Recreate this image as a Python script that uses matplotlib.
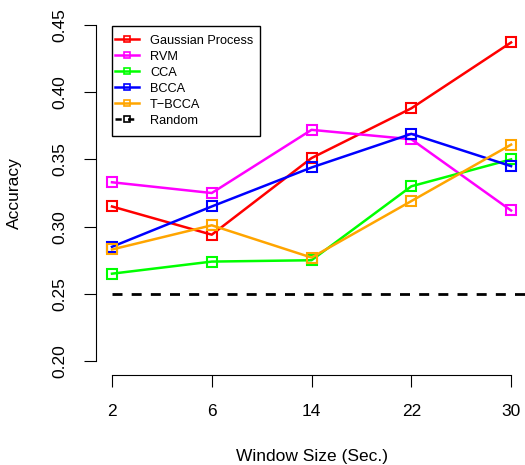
import numpy as np
import matplotlib.pyplot as plt
from matplotlib.lines import Line2D
from matplotlib.patches import Rectangle

plt.rcParams['font.family'] = ['Liberation Sans', 'DejaVu Sans']

# window sizes (categorical x axis)
windows = ['2', '6', '14', '22', '30']

# accuracy
gp = [0.315, 0.294, 0.351, 0.388, 0.437]
rvm = [0.333, 0.325, 0.372, 0.365, 0.312]
cca = [0.265, 0.274, 0.275, 0.330, 0.350]
bcca = [0.285, 0.315, 0.344, 0.369, 0.345]
tbcca = [0.283, 0.301, 0.277, 0.319, 0.361]
random_level = 0.25

names = ['Gaussian Process', 'RVM', 'CCA', 'BCCA', 'T\u2212BCCA']
colors = ['#FF0000', '#FF00FF', '#00FF00', '#0000FF', '#FFA500']
series = [gp, rvm, cca, bcca, tbcca]

fig = plt.figure(figsize=(5.25, 4.65), dpi=100)
ax = fig.add_axes([0.1829, 0.1946, 0.821, 0.7806])

x = np.arange(1, len(windows) + 1)
ax.set_xlim(0.84, 5.16)
ax.set_ylim(0.19, 0.46)

# random baseline, starting at the first window
lo, hi = ax.get_xlim()
ax.axhline(random_level, xmin=(x[0] - lo) / (hi - lo), xmax=1,
           color='black', lw=2.0, dashes=(3.6, 3.3), clip_on=False)

for vals, col in zip(series, colors):
    ax.plot(x, vals, color=col, lw=1.8, marker='s', ms=6.5,
            mfc='none', mec=col, mew=1.5)

# R-like axes: no box, axis lines only between extreme ticks
for s in ['top', 'right']:
    ax.spines[s].set_visible(False)
ax.spines['left'].set_bounds(0.20, 0.45)
ax.spines['bottom'].set_bounds(1, 5)
ax.spines['left'].set_linewidth(0.8)
ax.spines['bottom'].set_linewidth(0.8)

ax.set_xticks(x)
ax.set_xticklabels(windows)
yt = [0.20, 0.25, 0.30, 0.35, 0.40, 0.45]
ax.set_yticks(yt)
ax.set_yticklabels(['%.2f' % v for v in yt], rotation=90, va='center')
ax.tick_params(axis='both', length=8.5, width=0.8, labelsize=12.5)
ax.tick_params(axis='x', pad=13)
ax.tick_params(axis='y', pad=12)

ax.set_xlabel('Window Size (Sec.)', fontsize=12.5)
ax.set_ylabel('Accuracy', fontsize=12.5)
ax.xaxis.set_label_coords(0.5, -0.205)
ax.yaxis.set_label_coords(-0.172, 0.5)

handles = [Line2D([], [], color=c, lw=1.8, marker='s', ms=4, mfc='none', mec=c, mew=1.2)
           for c in colors]
handles.append(Line2D([], [], color='black', lw=1.8, dashes=(2.5, 2.5), marker='s', ms=4,
                      mfc='none', mec='black', mew=1.2))
leg = ax.legend(handles, names + ['Random'], loc='upper left',
                bbox_to_anchor=(0.044, 0.936), borderaxespad=0, fontsize=9.2,
                frameon=False, handlelength=1.9, handletextpad=0.85,
                labelspacing=0.31, borderpad=0.0)

# R-style legend box: tight on the left, roomier above and below
fig.canvas.draw()
bb = leg.get_window_extent().transformed(fig.transFigure.inverted())
px, py = 1 / 525, 1 / 465
fig.patches.append(Rectangle((bb.x0 - 3 * px, bb.y0 - 9 * py),
                             bb.width + 10 * px, bb.height + 18 * py,
                             transform=fig.transFigure, fill=False,
                             edgecolor='black', lw=1.0, zorder=5))

fig.savefig('out.png', dpi=100)
